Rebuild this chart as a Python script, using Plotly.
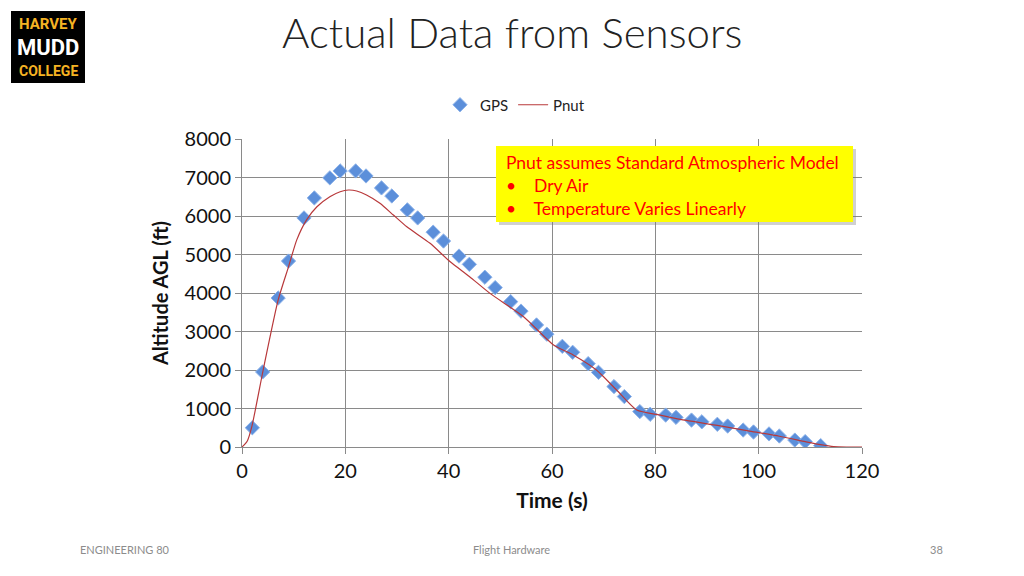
import plotly.graph_objects as go

# GPS samples
gps_t = [2, 4, 7, 9, 12, 14, 17, 19, 22, 24, 27, 29, 32, 34, 37, 39, 42, 44, 47, 49,
         52, 54, 57, 59, 62, 64, 67, 69, 72, 74, 77, 79, 82, 84, 87, 89, 92, 94, 97, 99,
         102, 104, 107, 109, 112]
gps_alt = [500, 1950, 3870, 4830, 5950, 6470, 6990, 7170, 7170, 7040, 6730, 6520, 6160, 5950,
           5580, 5350, 4960, 4745, 4410, 4140, 3775, 3530, 3170, 2930, 2615, 2460, 2165, 1940,
           1570, 1310, 920, 850, 830, 770, 700, 655, 590, 545, 440, 390, 340, 285, 180, 140, 35]

# Pnut altimeter trace
pnut_t = [0, 1, 1.9, 4.1, 7, 9, 10.6, 12.5, 14.5, 17, 19, 20.6, 22.2, 24.1, 26.7, 29.3, 31.9,
          36.4, 40.3, 44, 48, 54.5, 60.3, 64.1, 68.6, 72.5, 76.4, 80.9, 86, 92, 98, 104,
          109, 112, 114.5, 117, 120]
pnut_alt = [0, 150, 530, 2000, 3820, 4680, 5380, 5900, 6240, 6500, 6630, 6675, 6650, 6545,
            6330, 6025, 5720, 5290, 4810, 4430, 3990, 3385, 2650, 2390, 2000, 1480, 960, 830,
            690, 560, 420, 280, 140, 60, 10, 0, 0]

# the page puts the figure 8px in from the window corner
OFF = 8
# plot area in window pixels (used to place the slide decorations)
L, R, T, B = 242, 862, 139, 447


def px(x, y):
    return (x - L) / (R - L), (B - y) / (B - T)


fig = go.Figure()
fig.add_trace(go.Scatter(
    x=gps_t, y=gps_alt, mode="markers", name="GPS",
    marker=dict(symbol="diamond", size=11, color="#5C8FDA",
                line=dict(color="#8DB3EA", width=1))
))
fig.add_trace(go.Scatter(
    x=pnut_t, y=pnut_alt, mode="lines", name="Pnut",
    line=dict(color="#B8383A", width=1.2, shape="spline", smoothing=0.6)
))

shapes = []
annotations = []

# Harvey Mudd logo
x0, y0 = px(11, 83)
x1, y1 = px(85, 11)
shapes.append(dict(type="rect", xref="paper", yref="paper", x0=x0, y0=y0, x1=x1, y1=y1,
                   fillcolor="black", line=dict(width=0), layer="above"))
for txt, yy, col, sz in [("HARVEY", 24, "#F5B323", 15), ("MUDD", 47, "white", 22),
                         ("COLLEGE", 71, "#F5B323", 14)]:
    ax, ay = px(48, yy)
    annotations.append(dict(text=f"<b>{txt}</b>", x=ax, y=ay, xref="paper", yref="paper",
                            showarrow=False, xanchor="center", yanchor="middle",
                            font=dict(family="Roboto", size=sz, color=col)))

# yellow note box with a soft shadow
bx0, by0 = px(496, 222)
bx1, by1 = px(853, 146)
sx0, sy0 = px(499, 225)
sx1, sy1 = px(856, 149)
shapes.append(dict(type="rect", xref="paper", yref="paper", x0=sx0, y0=sy0, x1=sx1, y1=sy1,
                   fillcolor="rgba(120,120,120,0.35)", line=dict(width=0), layer="above"))
shapes.append(dict(type="rect", xref="paper", yref="paper", x0=bx0, y0=by0, x1=bx1, y1=by1,
                   fillcolor="#FFFF00", line=dict(width=0), layer="above"))
nx, ny = px(504, 185)
annotations.append(dict(
    text="Pnut assumes Standard Atmospheric Model<br>•&nbsp;&nbsp;&nbsp;&nbsp;Dry Air<br>•&nbsp;&nbsp;&nbsp;&nbsp;Temperature Varies Linearly",
    x=nx, y=ny, xref="paper", yref="paper", showarrow=False, align="left",
    xanchor="left", yanchor="middle", font=dict(family="Lato", size=17.5, color="#FF0000")
))

# slide title and footer
tx, ty = px(512, 32)
annotations.append(dict(text="Actual Data from Sensors", x=tx, y=ty, xref="paper", yref="paper",
                        showarrow=False, xanchor="center", yanchor="middle",
                        font=dict(family="Lato", size=42, color="#222222", weight=300)))
for txt, xx, anc in [("ENGINEERING 80", 78, "left"), ("Flight Hardware", 511, "center"), ("38", 945, "right")]:
    fx, fy = px(xx, 549)
    annotations.append(dict(text=txt, x=fx, y=fy, xref="paper", yref="paper", showarrow=False,
                            xanchor=anc, yanchor="middle",
                            font=dict(family="Lato", size=11, color="#8C8C8C")))

lx, ly = px(440, 105)

fig.update_layout(
    width=1024, height=576,
    margin=dict(l=L - OFF, r=1024 - R + OFF, t=T - OFF, b=576 - B + OFF),
    paper_bgcolor="white", plot_bgcolor="white",
    font=dict(family="Lato", color="#111111"),
    shapes=shapes, annotations=annotations,
    showlegend=True,
    legend=dict(orientation="h", x=lx, y=ly, xanchor="left", yanchor="middle",
                font=dict(size=15, color="#222222"), bgcolor="rgba(0,0,0,0)",
                itemwidth=30, tracegroupgap=0),
    xaxis=dict(range=[0, 120], dtick=20, showgrid=True, gridcolor="#8A8A8A", gridwidth=1,
               showline=True, linecolor="#8A8A8A", ticks="outside", ticklen=6, tickcolor="#8A8A8A",
               tickfont=dict(size=20), zeroline=False,
               title=dict(text="<b>Time (s)</b>", font=dict(size=21), standoff=12)),
    yaxis=dict(range=[0, 8000], dtick=1000, showgrid=True, gridcolor="#8A8A8A", gridwidth=1,
               showline=True, linecolor="#8A8A8A", ticks="outside", ticklen=6, tickcolor="#8A8A8A",
               tickfont=dict(size=20), zeroline=False,
               title=dict(text="<b>Altitude AGL (ft)</b>", font=dict(size=20), standoff=10)),
)

fig.write_html("out.html")
